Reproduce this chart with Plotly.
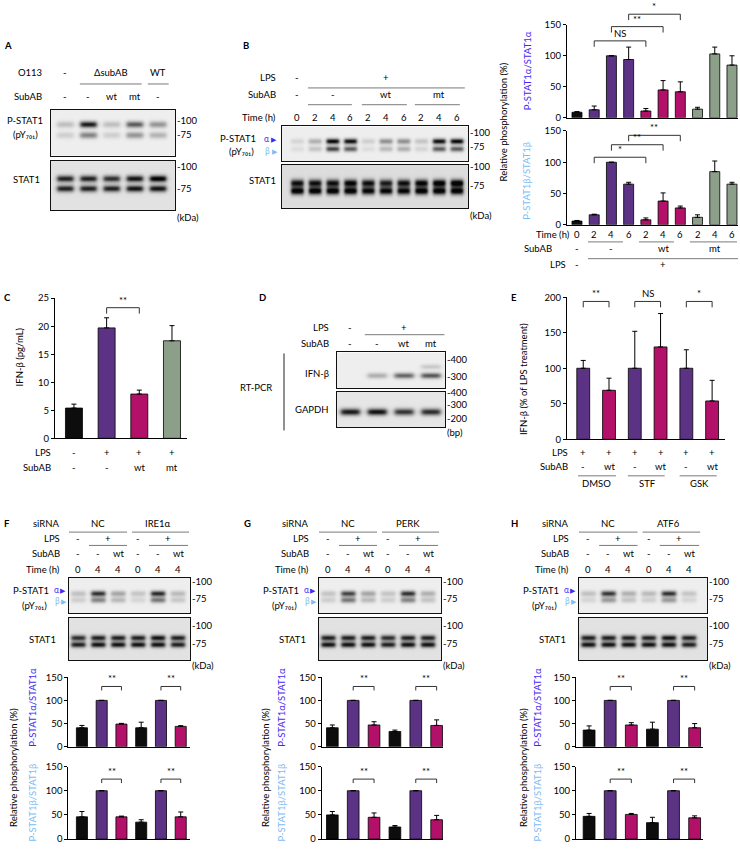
import numpy as np
import plotly.graph_objects as go

# page geometry in px, everything below is placed on a 740 x 850 page
W, H = 740, 850
FONT = "Lato"
FS = 9.5

COL = {"k": "#0d0d0d", "p": "#5c3384", "m": "#b3106a", "g": "#8c9f89"}
ALPHA_BLUE = "#3f2bf2"
BETA_BLUE = "#7dbdf5"
RULE = "#7a7a7a"
PY701 = "(pY₇₀₁)"

# ---------------- data ----------------
# A: O113 infection, band strength per lane (0..1)
A_SUBAB = ["-", "-", "wt", "mt", "-"]
A_PSTAT1_HI = [0.22, 0.9, 0.22, 0.65, 0.42]
A_PSTAT1_LO = [0.15, 0.5, 0.15, 0.42, 0.28]
A_STAT1_HI = [0.8, 0.8, 0.75, 0.85, 0.95]
A_STAT1_LO = [0.8, 0.8, 0.8, 0.85, 0.85]

# B: LPS time course
B_TIME = ["0", "2", "4", "6", "2", "4", "6", "2", "4", "6"]
B_COLORS = ["k", "p", "p", "p", "m", "m", "m", "g", "g", "g"]
B_PSTAT1_HI = [0.12, 0.3, 0.98, 0.95, 0.15, 0.45, 0.45, 0.2, 0.95, 0.98]
B_PSTAT1_LO = [0.08, 0.2, 0.75, 0.65, 0.08, 0.25, 0.3, 0.12, 0.65, 0.65]
B_STAT1_HI = [0.85, 0.85, 0.85, 0.9, 0.85, 0.8, 0.85, 0.9, 0.95, 0.98]
B_STAT1_LO = [0.95, 0.95, 0.95, 0.95, 0.9, 0.9, 0.9, 0.95, 0.95, 0.95]
B_ALPHA = [9, 13, 100, 94, 11, 45, 42, 14, 103, 85]
B_ALPHA_ERR = [1, 6, 0, 20, 4, 15, 16, 3, 11, 15]
B_BETA = [6, 16, 100, 65, 8, 38, 27, 12, 85, 65]
B_BETA_ERR = [1, 1, 0, 3, 3, 13, 3, 4, 17, 3]
B_ALPHA_SIG = [(1, 4, 124, "NS"), (2, 5, 147, "**"), (3, 6, 167, "*")]
B_BETA_SIG = [(1, 4, 108, "*"), (2, 5, 128, "**"), (3, 6, 143, "**")]

# C: IFN-beta ELISA (pg/mL)
C_LPS = ["-", "+", "+", "+"]
C_SUBAB = ["-", "-", "wt", "mt"]
C_COLORS = ["k", "p", "m", "g"]
C_IFNB = [5.4, 19.7, 7.9, 17.4]
C_ERR = [0.7, 1.8, 0.7, 2.7]
C_SIG = [(1, 2, 23.3, "**")]

# D: RT-PCR band strength
D_SUBAB = ["-", "-", "wt", "mt"]
D_IFNB_BAND = [0.0, 0.3, 0.62, 0.68]
D_IFNB_UPPER = [0.0, 0.0, 0.0, 0.18]
D_GAPDH_BAND = [0.85, 0.88, 0.75, 0.78]

# E: IFN-beta (% of LPS treatment)
E_SUBAB = ["-", "wt", "-", "wt", "-", "wt"]
E_GROUPS = ["DMSO", "STF", "GSK"]
E_COLORS = ["p", "m", "p", "m", "p", "m"]
E_IFNB = [100, 69, 100, 130, 100, 54]
E_ERR = [11, 17, 52, 47, 26, 29]
E_SIG = [(0, 1, 194, "**"), (2, 3, 194, "NS"), (4, 5, 194, "*")]

# F-H: siRNA knockdowns
UPR_LPS = ["-", "+", "-", "+"]
UPR_SUBAB = ["-", "-", "wt", "-", "-", "wt"]
UPR_TIME = ["0", "4", "4", "0", "4", "4"]
UPR_COLORS = ["k", "p", "m", "k", "p", "m"]
UPR_SIG_ALPHA = [(1, 2, 130, "**"), (4, 5, 130, "**")]
UPR_SIG_BETA = [(1, 2, 124, "**"), (4, 5, 124, "**")]

F_ALPHA = [41, 100, 49, 41, 100, 44]
F_ALPHA_ERR = [5, 0, 1.5, 12, 0, 1.5]
F_BETA = [46, 100, 46, 35, 100, 46]
F_BETA_ERR = [11, 0, 1.5, 5, 0, 10]
F_PSTAT1_HI = [0.22, 0.82, 0.35, 0.2, 0.85, 0.25]
F_PSTAT1_LO = [0.15, 0.5, 0.25, 0.12, 0.55, 0.18]
F_STAT1_HI = [0.75, 0.8, 0.8, 0.8, 0.85, 0.8]
F_STAT1_LO = [0.8, 0.85, 0.85, 0.85, 0.85, 0.8]

G_ALPHA = [41, 100, 47, 33, 100, 46]
G_ALPHA_ERR = [6, 0, 7, 3, 0, 12]
G_BETA = [50, 100, 45, 25, 100, 40]
G_BETA_ERR = [7, 0, 9, 3, 0, 9]
G_PSTAT1_HI = [0.2, 0.75, 0.35, 0.2, 0.82, 0.3]
G_PSTAT1_LO = [0.15, 0.55, 0.25, 0.15, 0.5, 0.2]
G_STAT1_HI = [0.8, 0.8, 0.8, 0.75, 0.8, 0.8]
G_STAT1_LO = [0.85, 0.85, 0.85, 0.8, 0.85, 0.85]

H_ALPHA = [36, 100, 47, 38, 100, 41]
H_ALPHA_ERR = [9, 0, 5, 15, 0, 9]
H_BETA = [47, 100, 51, 34, 100, 44]
H_BETA_ERR = [6, 0, 2, 11, 0, 4]
H_PSTAT1_HI = [0.22, 0.8, 0.3, 0.25, 0.82, 0.2]
H_PSTAT1_LO = [0.12, 0.4, 0.2, 0.15, 0.4, 0.12]
H_STAT1_HI = [0.8, 0.8, 0.8, 0.8, 0.85, 0.8]
H_STAT1_LO = [0.85, 0.85, 0.85, 0.85, 0.85, 0.8]

# ---------------- helpers ----------------
fig = go.Figure()
AX = {}
layout_axes = {}
annotations = []
shapes = []

BAR_X = dict(showgrid=False, zeroline=False, showline=True, linecolor="black",
             linewidth=1, ticks="", showticklabels=False, fixedrange=True)
BAR_Y = dict(showgrid=False, zeroline=False, showline=True, linecolor="black",
             linewidth=1, ticks="outside", ticklen=3, tickwidth=1, tickcolor="black",
             tickfont=dict(size=FS, family=FONT, color="black"), fixedrange=True)
BLOT_AX = dict(showgrid=False, zeroline=False, showline=True, mirror=True,
               linecolor="#111111", linewidth=1.2, ticks="", showticklabels=False,
               fixedrange=True)


def add_axes(name, box, xr, yr, xstyle, ystyle):
    k = len(AX) + 1
    s = "" if k == 1 else str(k)
    left, right, top, bottom = box
    AX[name] = dict(x="x" + s, y="y" + s, l=left, r=right, t=top, b=bottom, xr=xr, yr=yr)
    layout_axes["xaxis" + s] = dict(xstyle, domain=[left / W, right / W], range=xr, anchor="y" + s)
    layout_axes["yaxis" + s] = dict(ystyle, domain=[1 - bottom / H, 1 - top / H], range=yr, anchor="x" + s)
    return AX[name]


def to_px(a, x, y=0):
    px = a["l"] + (x - a["xr"][0]) / (a["xr"][1] - a["xr"][0]) * (a["r"] - a["l"])
    py = a["b"] - (y - a["yr"][0]) / (a["yr"][1] - a["yr"][0]) * (a["b"] - a["t"])
    return px, py


def text(x, y, s, size=FS, color="black", xa="center", ya="middle", angle=0):
    annotations.append(dict(x=x / W, y=1 - y / H, xref="paper", yref="paper", text=s,
                            showarrow=False, xanchor=xa, yanchor=ya, textangle=angle,
                            borderpad=0, font=dict(size=size, color=color, family=FONT)))


def rule(x0, x1, y0, y1=None, color=RULE):
    y1 = y0 if y1 is None else y1
    shapes.append(dict(type="line", xref="paper", yref="paper", x0=x0 / W, x1=x1 / W,
                       y0=1 - y0 / H, y1=1 - y1 / H, line=dict(color=color, width=1)))


def lane_row(a, y, labels, pos=None):
    pos = list(range(len(labels))) if pos is None else pos
    for p, s in zip(pos, labels):
        text(to_px(a, p)[0], y, s)


def lane_rule(a, i0, i1, y):
    rule(to_px(a, i0)[0], to_px(a, i1)[0], y)


def bracket(a, i, j, yv, label, drop=6):
    x0, yp = to_px(a, i, yv)
    x1, _ = to_px(a, j, yv)
    path = (f"M{x0 / W},{1 - (yp + drop) / H} L{x0 / W},{1 - yp / H} "
            f"L{x1 / W},{1 - yp / H} L{x1 / W},{1 - (yp + drop) / H}")
    shapes.append(dict(type="path", xref="paper", yref="paper", path=path,
                       line=dict(color="#333333", width=1)))
    text((x0 + x1) / 2, yp - 1, label, ya="bottom")


def bar_chart(name, box, xr, yr, tickvals, values, errors, colors, width):
    a = add_axes(name, box, xr, yr, BAR_X, dict(BAR_Y, tickvals=tickvals))
    fig.add_trace(go.Bar(
        x=list(range(len(values))), y=values, width=width,
        marker=dict(color=[COL[c] for c in colors], line=dict(color="black", width=0.8)),
        error_y=dict(type="data", symmetric=False, array=errors, arrayminus=[0] * len(values),
                     color="black", thickness=1, width=2.5),
        xaxis=a["x"], yaxis=a["y"], hoverinfo="skip", showlegend=False))
    return a


def blot(name, box, xr, bands, bg=0.04):
    a = add_axes(name, box, xr, [1, 0], BLOT_AX, BLOT_AX)
    left, right, top, bottom = box
    xs = np.linspace(xr[0], xr[1], int((right - left) * 2))
    ys = np.linspace(0, 1, int((bottom - top) * 2))
    z = np.full((len(ys), len(xs)), bg)
    for yc, thick, lanes in bands:
        rows = np.exp(-((ys - yc) / thick) ** 2)
        for k, v in enumerate(lanes):
            cols = 1 / (1 + np.exp((np.abs(xs - k) - 0.36) / 0.05))
            z += v * np.outer(rows, cols)
    fig.add_trace(go.Heatmap(
        x=xs, y=ys, z=np.clip(z, 0, 1), zmin=0, zmax=1, zsmooth="best",
        colorscale=[[0, "#f7f7f7"], [0.5, "#8c8c8c"], [1, "#050505"]],
        showscale=False, hoverinfo="skip", xaxis=a["x"], yaxis=a["y"]))
    return a


def pstat1_label(x_right, y_name, y_alpha, y_beta, y_py, off):
    # off = (name right, greek, arrow) offsets to the left of the blot edge
    n_off, g_off, a_off = off
    text(x_right - n_off, y_name, "P-STAT1", xa="right")
    text(x_right - g_off, y_alpha, "α", size=8.5, color=ALPHA_BLUE)
    text(x_right - a_off, y_alpha, "▶", size=7, color=ALPHA_BLUE)
    text(x_right - n_off - 2, y_py, PY701, xa="right")
    text(x_right - g_off + 1, y_beta, "β", size=8.5, color=BETA_BLUE)
    text(x_right - a_off + 1, y_beta, "▶", size=7, color=BETA_BLUE)


# ---------------- A ----------------
text(3, 40, "<b>A</b>", xa="left")
aP = blot("A_P", (51, 175, 105, 152), [-0.6, 4.73],
          [(0.32, 0.07, A_PSTAT1_HI), (0.55, 0.07, A_PSTAT1_LO)])
aS = blot("A_S", (51, 175, 157, 207), [-0.6, 4.73],
          [(0.36, 0.07, A_STAT1_HI), (0.56, 0.07, A_STAT1_LO)], bg=0.1)
text(43, 67, "O113", xa="right")
lane_row(aP, 67, ["-", "ΔsubAB", "WT"], [0, 2, 4])
lane_rule(aP, 0.64, 3.3, 79)
lane_rule(aP, 3.56, 4.46, 79)
text(43, 92, "SubAB", xa="right")
lane_row(aP, 92, A_SUBAB)
text(25, 116, "P-STAT1")
text(25, 130, PY701)
text(26, 176, "STAT1")
for y, s in [(116, "-100"), (130, "-75"), (163, "-100"), (185, "-75"), (214, "(kDa)")]:
    text(176, y, s, xa="left")

# ---------------- B (blots) ----------------
text(242, 40, "<b>B</b>", xa="left")
bP = blot("B_P", (282, 468, 122, 157), [-0.84, 9.62],
          [(0.42, 0.08, B_PSTAT1_HI), (0.64, 0.08, B_PSTAT1_LO)])
bS = blot("B_S", (282, 468, 161, 205), [-0.84, 9.62],
          [(0.42, 0.09, B_STAT1_HI), (0.6, 0.09, B_STAT1_LO)], bg=0.12)
text(277, 72, "LPS", xa="right")
lane_row(bP, 72, ["-", "+"], [0, 5])
lane_rule(bP, 0.62, 9.44, 83)
text(277, 90, "SubAB", xa="right")
lane_row(bP, 90, ["-", "-", "wt", "mt"], [0, 2, 5, 8])
for i0, i1 in [(0.62, 3.09), (3.65, 6.18), (6.63, 9.16)]:
    lane_rule(bP, i0, i1, 100)
text(277, 113, "Time (h)", xa="right")
lane_row(bP, 113, B_TIME)
pstat1_label(282, 134, 135, 147, 147, (25, 16, 8))
text(262, 177, "STAT1")
for y, s in [(128, "-100"), (142, "-75"), (163, "-100"), (182, "-75"), (212, "(kDa)")]:
    text(469, y, s, xa="left")

# ---------------- B (quantification) ----------------
tA = bar_chart("B_A", (567, 738, 19, 113.3), [-0.58, 9.35], [0, 150], [0, 50, 100, 150],
               B_ALPHA, B_ALPHA_ERR, B_COLORS, 0.58)
tB = bar_chart("B_B", (567, 738, 126.6, 221.7), [-0.58, 9.35], [0, 150], [0, 50, 100, 150],
               B_BETA, B_BETA_ERR, B_COLORS, 0.58)
for i, j, yv, lab in B_ALPHA_SIG:
    bracket(tA, i, j, yv, lab)
for i, j, yv, lab in B_BETA_SIG:
    bracket(tB, i, j, yv, lab)
text(571, 231, "Time (h)", xa="right")
lane_row(tA, 231, B_TIME)
text(553, 246, "SubAB", xa="right")
lane_row(tA, 246, ["-", "-", "wt", "mt"], [0, 2, 5, 8])
for i0, i1 in [(0.64, 2.67), (3.6, 5.63), (6.56, 9.29)]:
    lane_rule(tA, i0, i1, 239)
text(567, 262, "LPS", xa="right")
lane_row(tA, 262, ["-", "+"], [0, 5])
lane_rule(tA, 0.64, 9.35, 256)
text(503, 118, "Relative phosphorylation (%)", angle=-90)
text(527, 66, "P-STAT1α/STAT1α", color=ALPHA_BLUE, angle=-90)
text(527, 177, "P-STAT1β/STAT1β", color=BETA_BLUE, angle=-90)

# ---------------- C ----------------
text(3, 295, "<b>C</b>", xa="left")
cA = bar_chart("C", (55, 187, 296, 438), [-0.58, 3.46], [0, 25], [0, 5, 10, 15, 20, 25],
               C_IFNB, C_ERR, C_COLORS, 0.52)
for i, j, yv, lab in C_SIG:
    bracket(cA, i, j, yv, lab)
text(52, 452, "LPS", xa="right")
lane_row(cA, 452, C_LPS)
text(52, 468, "SubAB", xa="right")
lane_row(cA, 468, C_SUBAB)
text(19, 356, "IFN-β (pg/mL)", angle=-90)

# ---------------- D ----------------
text(258, 295, "<b>D</b>", xa="left")
dI = blot("D_I", (337, 445, 351, 387), [-0.48, 3.52],
          [(0.64, 0.08, D_IFNB_BAND), (0.39, 0.07, D_IFNB_UPPER)])
dG = blot("D_G", (337, 445, 391, 427), [-0.48, 3.52], [(0.55, 0.1, D_GAPDH_BAND)], bg=0.08)
text(330, 326, "LPS", xa="right")
lane_row(dI, 326, ["-", "+"], [0, 2])
lane_rule(dI, 0.55, 3.5, 333)
text(330, 342, "SubAB", xa="right")
lane_row(dI, 342, D_SUBAB)
text(330, 372, "IFN-β", xa="right")
text(330, 409, "GAPDH", xa="right")
rule(284, 284, 352, 430, color="#222222")
text(256, 386, "RT-PCR")
for y, s in [(358, "-400"), (375, "-300"), (392, "-400"), (404, "-300"), (418, "-200"), (432, "(bp)")]:
    text(446, y, s, xa="left")

# ---------------- E ----------------
text(510, 295, "<b>E</b>", xa="left")
eA = bar_chart("E", (567, 725, 295, 439), [-0.63, 5.5], [0, 200], [0, 50, 100, 150, 200],
               E_IFNB, E_ERR, E_COLORS, 0.5)
for i, j, yv, lab in E_SIG:
    bracket(eA, i, j, yv, lab)
text(569, 452, "LPS", xa="right")
lane_row(eA, 452, ["+"] * 6)
text(569, 467, "SubAB", xa="right")
lane_row(eA, 467, E_SUBAB)
for i0, i1 in [(-0.2, 1.27), (1.73, 3.16), (3.74, 5.18)]:
    lane_rule(eA, i0, i1, 476)
lane_row(eA, 484, E_GROUPS, [0.5, 2.5, 4.5])
text(523, 378, "IFN-β (% of LPS treatment)", angle=-90)

# ---------------- F, G, H ----------------
panels = [
    ("F", 3, 61, "IRE1α", (69, 190), [-0.45, 5.6], (68.3, 190), [-0.69, 5.47], 13, 33,
     F_PSTAT1_HI, F_PSTAT1_LO, F_STAT1_HI, F_STAT1_LO, F_ALPHA, F_ALPHA_ERR, F_BETA, F_BETA_ERR),
    ("G", 243, 310, "PERK", (319, 441), [-0.45, 5.65], (321.7, 443.3), [-0.51, 5.32], 265, 282,
     G_PSTAT1_HI, G_PSTAT1_LO, G_STAT1_HI, G_STAT1_LO, G_ALPHA, G_ALPHA_ERR, G_BETA, G_BETA_ERR),
    ("H", 510, 570, "ATF6", (579, 707), [-0.45, 5.89], (576, 703.3), [-0.62, 5.41], 523, 538,
     H_PSTAT1_HI, H_PSTAT1_LO, H_STAT1_HI, H_STAT1_LO, H_ALPHA, H_ALPHA_ERR, H_BETA, H_BETA_ERR),
]
for (letter, lx, rx, sirna, (bl, br), bxr, (cl, cr), cxr, tx_black, tx_col,
     p_hi, p_lo, s_hi, s_lo, va, va_err, vb, vb_err) in panels:
    text(lx, 524, f"<b>{letter}</b>", xa="left")
    pA = blot(letter + "_P", (bl, br, 579, 615), bxr,
              [(0.44, 0.08, p_hi), (0.62, 0.08, p_lo)])
    blot(letter + "_S", (bl, br, 620, 663), bxr,
         [(0.47, 0.07, s_hi), (0.63, 0.07, s_lo)], bg=0.1)
    text(rx, 524, "siRNA", xa="right")
    lane_row(pA, 524, ["NC", sirna], [1, 4])
    lane_rule(pA, -0.45, 2.45, 533)
    lane_rule(pA, 2.7, 5.55, 533)
    text(rx, 539, "LPS", xa="right")
    lane_row(pA, 539, UPR_LPS, [0, 1.5, 3, 4.5])
    lane_rule(pA, 0.55, 2.45, 546.5)
    lane_rule(pA, 3.55, 5.5, 546.5)
    text(rx, 555, "SubAB", xa="right")
    lane_row(pA, 555, UPR_SUBAB)
    text(rx, 571, "Time (h)", xa="right")
    lane_row(pA, 571, UPR_TIME)
    pstat1_label(bl, 592, 592, 603, 607, (19, 13, 6))
    text(bl - 27, 642, "STAT1")
    for y, s in [(583, "-100"), (600, "-75"), (628, "-100"), (646, "-75"), (668, "(kDa)")]:
        text(br + 1, y, s, xa="left")

    qa = bar_chart(letter + "_A", (cl, cr, 680, 750.5), cxr, [0, 150], [0, 50, 100, 150],
                   va, va_err, UPR_COLORS, 0.56)
    qb = bar_chart(letter + "_B", (cl, cr, 770.5, 844), cxr, [0, 150], [0, 50, 100, 150],
                   vb, vb_err, UPR_COLORS, 0.56)
    for i, j, yv, lab in UPR_SIG_ALPHA:
        bracket(qa, i, j, yv, lab, drop=4)
    for i, j, yv, lab in UPR_SIG_BETA:
        bracket(qb, i, j, yv, lab, drop=4)
    text(tx_black, 772, "Relative phosphorylation (%)", angle=-90)
    text(tx_col, 711, "P-STAT1α/STAT1α", color=ALPHA_BLUE, angle=-90)
    text(tx_col, 807, "P-STAT1β/STAT1β", color=BETA_BLUE, angle=-90)

fig.update_layout(
    width=W, height=H, autosize=False,
    margin=dict(l=0, r=0, t=0, b=0),
    paper_bgcolor="white", plot_bgcolor="white",
    showlegend=False,
    font=dict(family=FONT, size=FS, color="black"),
    annotations=annotations, shapes=shapes,
    **layout_axes,
)

# the page body margin would push the 740x850 figure past the window edge
fig.write_html("out.html", config={"displayModeBar": False},
               post_script="document.body.style.margin='0';document.body.style.overflow='hidden';")
